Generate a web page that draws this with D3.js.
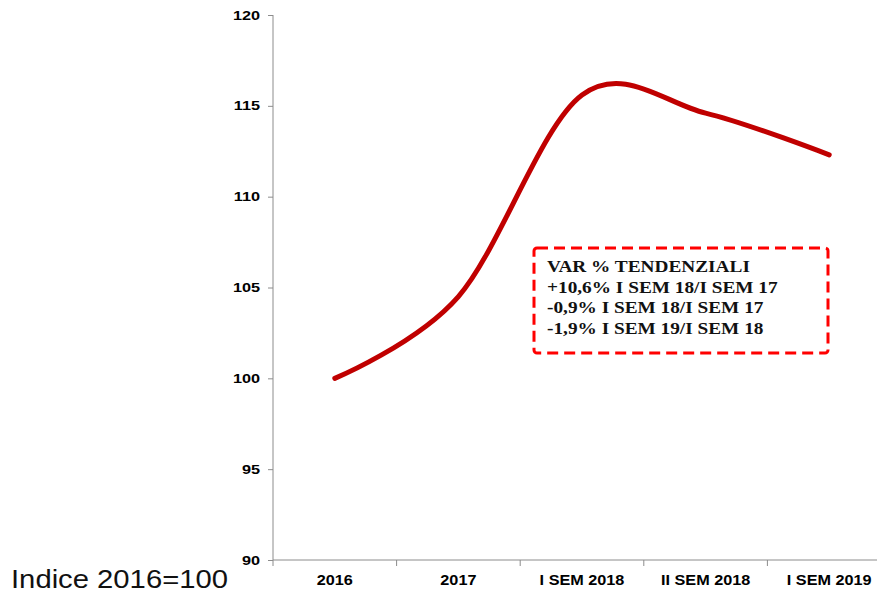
<!DOCTYPE html>
<html>
<head>
<meta charset="utf-8">
<script src="https://cdn.jsdelivr.net/npm/d3@7"></script>
<style>
  body { margin: 0; background: #fff; }
  svg { display: block; }
</style>
</head>
<body>
<svg id="chart"></svg>
<script>
// chart data
const categories = ["2016", "2017", "I SEM 2018", "II SEM 2018", "I SEM 2019"];
const indexValues = [100, 104.5, 115.6, 114.6, 112.3];
const yTicks = [90, 95, 100, 105, 110, 115, 120];
const noteLines = [
  "VAR % TENDENZIALI",
  "+10,6% I SEM 18/I SEM 17",
  "-0,9% I SEM 18/I SEM 17",
  "-1,9% I SEM 19/I SEM 18"
];
const footLabel = "Indice 2016=100";

const width = 877, height = 594;
const margin = { top: 15, right: -14, bottom: 34, left: 273 };
const stretch = 1.17; // source picture is a bit wider than tall

const svg = d3.select("#chart")
  .attr("width", width)
  .attr("height", height);

const xScale = d3.scaleBand()
  .domain(categories)
  .range([margin.left, width - margin.right]);

const yScale = d3.scaleLinear()
  .domain([90, 120])
  .range([height - margin.bottom, margin.top]);

// y axis
const yAxis = svg.append("g")
  .attr("transform", `translate(${margin.left},0)`)
  .call(d3.axisLeft(yScale).tickValues(yTicks).tickSize(5).tickPadding(0).tickFormat(""));
yAxis.selectAll("path, line").attr("stroke", "#8c8c8c");
yAxis.select(".domain").attr("d", `M0,${yScale(120)}V${yScale(90)}`);

svg.append("g").selectAll("text")
  .data(yTicks)
  .join("text")
  .attr("transform", d => `translate(${margin.left - 13},${yScale(d) + 4.5}) scale(1.25,1)`)
  .attr("text-anchor", "end")
  .style("font-family", "Liberation Sans, Arial, sans-serif")
  .style("font-weight", "bold")
  .style("font-size", "13px")
  .text(d => d);

// x axis with ticks at band edges
const xAxisG = svg.append("g")
  .attr("transform", `translate(0,${yScale(90)})`);
xAxisG.append("line")
  .attr("x1", margin.left).attr("x2", width)
  .attr("stroke", "#8c8c8c");
xAxisG.selectAll("line.tk")
  .data(categories)
  .join("line")
  .attr("class", "tk")
  .attr("x1", d => xScale(d)).attr("x2", d => xScale(d))
  .attr("y1", 0).attr("y2", 6)
  .attr("stroke", "#8c8c8c");
xAxisG.selectAll("text")
  .data(categories)
  .join("text")
  .attr("transform", d => `translate(${xScale(d) + xScale.bandwidth() / 2},25) scale(1.12,1)`)
  .attr("text-anchor", "middle")
  .style("font-family", "Liberation Sans, Arial, sans-serif")
  .style("font-weight", "bold")
  .style("font-size", "14.5px")
  .text(d => d);

// smoothed line
const line = d3.line()
  .x((d, i) => xScale(categories[i]) + xScale.bandwidth() / 2)
  .y(d => yScale(d))
  .curve(d3.curveCardinal.tension(0));

svg.append("path")
  .datum(indexValues)
  .attr("fill", "none")
  .attr("stroke", "#c00000")
  .attr("stroke-width", 5)
  .attr("stroke-linecap", "round")
  .attr("d", line);

// annotation box
const note = svg.append("g");
note.append("rect")
  .attr("x", 534).attr("y", 248)
  .attr("width", 294).attr("height", 105)
  .attr("rx", 3)
  .attr("fill", "#fff")
  .attr("stroke", "#ff0000")
  .attr("stroke-width", 3)
  .attr("stroke-dasharray", "11,6");
note.selectAll("text")
  .data(noteLines)
  .join("text")
  .attr("transform", (d, i) => `translate(547,${272 + i * 20.5}) scale(${stretch},1)`)
  .attr("fill", "#111")
  .style("font-family", "Liberation Serif, Times New Roman, serif")
  .style("font-weight", "bold")
  .style("font-size", "16.5px")
  .text(d => d);

// footer label
svg.append("text")
  .attr("transform", `translate(11,588) scale(${stretch},1)`)
  .attr("fill", "#111")
  .style("font-family", "Liberation Sans, Arial, sans-serif")
  .style("font-size", "25px")
  .text(footLabel);
</script>
</body>
</html>
